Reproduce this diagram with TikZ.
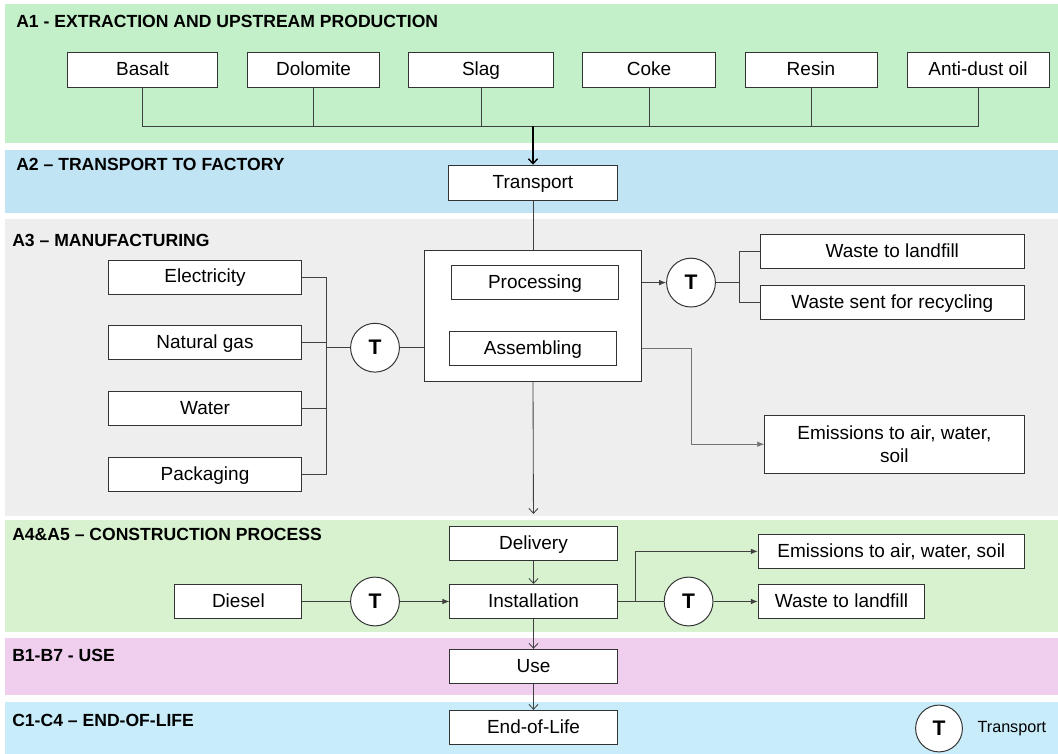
\documentclass[tikz,border=0pt]{standalone}
\usepackage{fontspec}
\setmainfont{Liberation Sans}
\usepackage{xcolor}
\usetikzlibrary{calc, positioning, arrows.meta}

\definecolor{bandone}{RGB}{195,240,200}
\definecolor{bandtwo}{RGB}{192,228,243}
\definecolor{bandthree}{RGB}{238,238,238}
\definecolor{bandfour}{RGB}{216,242,208}
\definecolor{bandfive}{RGB}{240,206,238}
\definecolor{bandsix}{RGB}{200,236,250}

\begin{document}
\begin{tikzpicture}[>={Latex[length=5pt,width=4pt]}, x=0.025cm, y=-0.025cm,
    flowbox/.style={draw=black!80, fill=white, line width=0.7pt, minimum width=4.18cm,
        minimum height=0.85cm, inner sep=1pt, text height=2ex, text depth=0.4ex,
        font=\fontsize{13.5}{16}\selectfont},
    tnode/.style={draw=black!80, fill=white, circle, line width=0.7pt, minimum size=1.22cm,
        inner sep=0pt, font=\fontsize{15}{17}\selectfont\bfseries},
    stage/.style={anchor=west, inner sep=0pt, font=\fontsize{12.5}{14}\selectfont\bfseries},
    link/.style={draw=black!75, line width=0.6pt},
    vtip/.style={-{Straight Barb[length=3.5pt,width=6.5pt]}}]
    % Hintergrund und Phasen
    \fill[white] (0,0) rectangle (1058,754);
    \useasboundingbox (0,0) rectangle (1058,754);
    \fill[bandone]   (5,4)     rectangle (1058,143.5);
    \fill[bandtwo]   (5,150)   rectangle (1058,213.5);
    \fill[bandthree] (5,219)   rectangle (1058,515.5);
    \fill[bandfour]  (5,520)   rectangle (1058,631.5);
    \fill[bandfive]  (5,637.5) rectangle (1058,695);
    \fill[bandsix]   (5,702)   rectangle (1058,754);

    \node[stage] (ta1) at (16,21)    {A1 - EXTRACTION AND UPSTREAM PRODUCTION};
    \node[stage] (ta2) at (16,164)   {A2 -- TRANSPORT TO FACTORY};
    \node[stage] (ta3) at (12,240)   {A3 -- MANUFACTURING};
    \node[stage] (ta4) at (12,534)   {A4\&A5 -- CONSTRUCTION PROCESS};
    \node[stage] (tb)  at (12,655)   {B1-B7 - USE};
    \node[stage] (tc)  at (12,720)   {C1-C4 -- END-OF-LIFE};

    % A1 Rohstoffe
    \foreach \n/\t/\x/\w in {basalt/Basalt/142.5/3.725, dolomite/Dolomite/313.5/3.3,
            slag/Slag/481/3.6, coke/Coke/649/3.3, resin/Resin/811/3.3,
            antidust/Anti-dust oil/978/3.55} {
        \node[flowbox, minimum width=\w cm] (\n) at (\x,70) {\t};
    }
    \coordinate (bus) at (533,126);
    \foreach \n in {basalt,dolomite,slag,coke,resin,antidust} {
        \draw[link] (\n.south) |- (bus);
    }

    % A2
    \node[flowbox, minimum width=4.2cm, minimum height=0.89cm] (transport) at (533,183) {Transport};
    \draw[line width=1pt, vtip] (bus) -- (transport.north);

    % A3 Herstellung
    \node[flowbox, minimum width=5.4cm, minimum height=3.25cm] (factory) at (533,316) {};
    \node[flowbox] (processing) at (535,282.6) {Processing};
    \node[flowbox] (assembling) at (533,348.5) {Assembling};
    \draw[link] (transport.south) -- (factory.north);

    \foreach \n/\t/\y in {elec/Electricity/277, gas/Natural gas/342.6,
            water/Water/408.7, pack/Packaging/474.8} {
        \node[flowbox, minimum width=4.8cm] (\n) at (205,\y) {\t};
    }
    \node[tnode] (t1) at (375,347.7) {T};
    \coordinate (inbus) at (326,347.7);
    \foreach \n in {elec,gas,water,pack} {
        \draw[link] (\n.east) -| (inbus);
    }
    \draw[link, line width=0.9pt] (inbus) -- (t1.west);
    \draw[link] (t1.east) -- (t1.east -| factory.west);

    \node[tnode] (t2) at (691,282.6) {T};
    \node[flowbox, minimum width=6.585cm] (landfill) at (892.3,251.4) {Waste to landfill};
    \node[flowbox, minimum width=6.585cm] (recycle) at (892.3,302.1) {Waste sent for recycling};
    \node[flowbox, minimum width=6.48cm, minimum height=1.46cm, text height={}, text depth={},
        align=center] (emisone) at (894.4,444.2) {Emissions to air, water,\\soil};
    \draw[link, ->] (processing.east -| factory.east) -- (t2.west);
    \coordinate (wfork) at (739,282.6);
    \draw[link] (t2.east) -- (wfork);
    \draw[link] (wfork) |- (landfill.west);
    \draw[link] (wfork) |- (recycle.west);
    \draw[link, draw=black!55, ->] (assembling.east -| factory.east) -- ++(50,0) |- (emisone.west);

    % A4-A5, B, C
    \node[flowbox] (delivery) at (533.5,543.4) {Delivery};
    \node[flowbox] (install) at (533.5,601.5) {Installation};
    \node[flowbox] (use) at (533.5,666.3) {Use};
    \node[flowbox] (eol) at (533.5,727.4) {End-of-Life};
    \draw[link, vtip, shorten >=0.3cm] (factory.south) -- (delivery.north);
    \draw[link, vtip] (delivery) -- (install);
    \draw[link, vtip] (install) -- (use);
    \draw[link, vtip] (use) -- (eol);

    \node[flowbox, minimum width=3.17cm] (diesel) at (238.4,601.5) {Diesel};
    \node[tnode] (t3) at (375,601.5) {T};
    \draw[link] (diesel) -- (t3);
    \draw[link, ->] (t3) -- (install);

    \node[tnode] (t4) at (688.6,601.5) {T};
    \node[flowbox, minimum width=6.65cm] (emistwo) at (891.3,551.4) {Emissions to air, water, soil};
    \node[flowbox, minimum width=4.16cm] (wastetwo) at (841.5,601.5) {Waste to landfill};
    \draw[link] (install) -- (t4);
    \draw[link, ->] (t4) -- (wastetwo);
    \draw[link, ->] (install.east) -- ++(18,0) |- (emistwo.west);

    % Legende
    \node[tnode, minimum size=1.17cm] (tleg) at (939,728.5) {T};
    \node[right=0.36cm of tleg, inner sep=0pt, font=\fontsize{11.5}{13}\selectfont] (tlegtxt) {Transport};
\end{tikzpicture}
\end{document}
